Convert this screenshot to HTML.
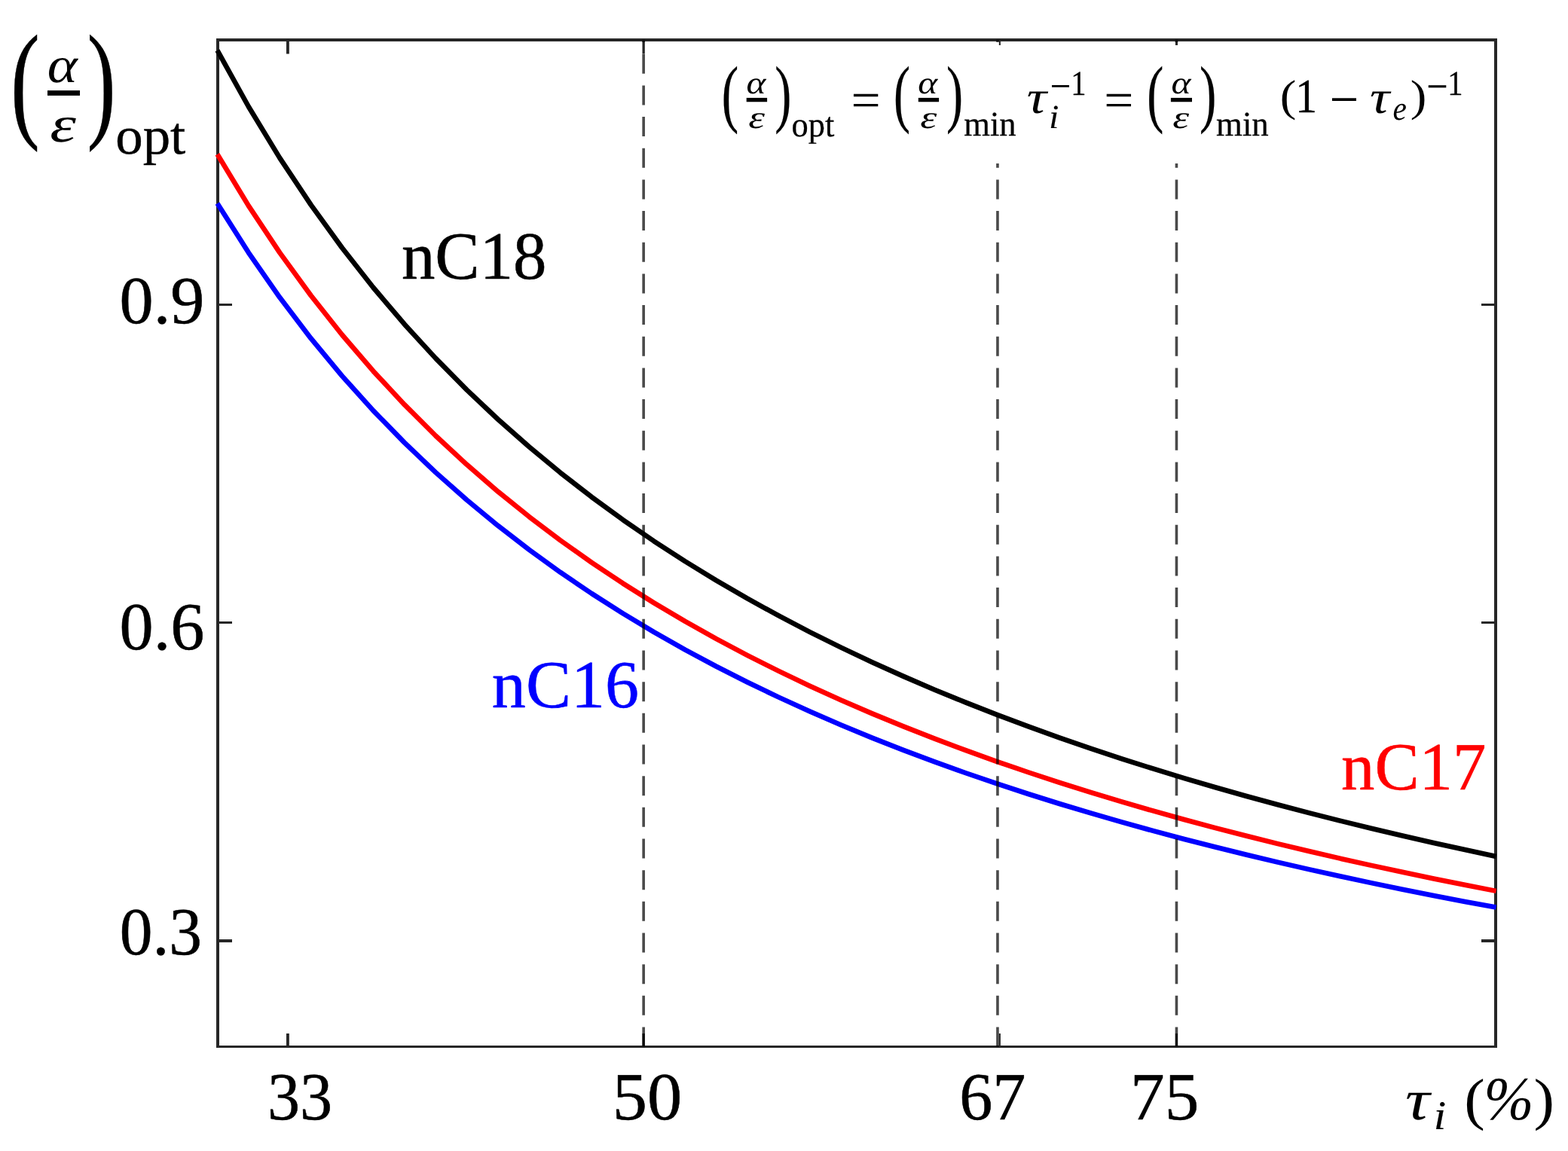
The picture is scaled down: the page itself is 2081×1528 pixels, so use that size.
<!DOCTYPE html>
<html lang="en"><head><meta charset="utf-8"><title>Optimal absorptance to emittance ratio versus transmittance</title>
<style>html,body{margin:0;padding:0;background:#ffffff}body{width:2081px;height:1528px;overflow:hidden}svg{display:block}text{font-family:"Liberation Serif","DejaVu Serif",serif;white-space:pre;text-rendering:geometricPrecision}.it{font-style:italic}.dj{font-family:"DejaVu Serif","Liberation Serif",serif}</style>
</head><body>
<svg width="2081" height="1528" viewBox="0 0 2081 1528">
<rect x="0" y="0" width="2081" height="1528" fill="#ffffff"/>
<g fill="#262626" shape-rendering="crispEdges">
<rect x="287" y="51" width="4" height="1340"/>
<rect x="1983" y="51" width="4" height="1340"/>
<rect x="287" y="51" width="1700" height="4"/>
<rect x="287" y="1388" width="1700" height="3"/>
</g>
<g fill="#262626">
<rect x="380" y="1372" width="3.85" height="17"/>
<rect x="380" y="54" width="3.85" height="17.5"/>
<rect x="852.5" y="1372" width="3.3" height="17"/>
<rect x="852.5" y="54" width="3.3" height="17.5"/>
<rect x="1325.8" y="1372" width="2.1" height="17"/>
<rect x="1325.8" y="54" width="2.1" height="17.5"/>
<rect x="1559.9" y="1372" width="3.1" height="17"/>
<rect x="1559.9" y="54" width="3.1" height="17.5"/>
<rect x="290" y="403" width="18" height="3"/>
<rect x="1966" y="403" width="18" height="3"/>
<rect x="290" y="825" width="18" height="3"/>
<rect x="1966" y="825" width="18" height="3"/>
<rect x="290" y="1247" width="18" height="4"/>
<rect x="1966" y="1247" width="18" height="4"/>
</g>
<path d="M288.43 270.09 L329.83 335.34 L371.22 394.79 L412.61 449.17 L454.01 499.1 L495.4 545.12 L536.8 587.66 L578.19 627.1 L619.58 663.77 L660.98 697.96 L702.37 729.9 L743.76 759.81 L785.16 787.88 L826.55 814.27 L867.94 839.13 L909.34 862.58 L950.73 884.76 L992.12 905.74 L1033.52 925.64 L1074.91 944.53 L1116.3 962.49 L1157.7 979.58 L1199.09 995.86 L1240.48 1011.4 L1281.88 1026.24 L1323.27 1040.42 L1364.66 1053.99 L1406.06 1067 L1447.45 1079.46 L1488.84 1091.42 L1530.24 1102.91 L1571.63 1113.95 L1613.02 1124.57 L1654.42 1134.8 L1695.81 1144.65 L1737.2 1154.14 L1778.6 1163.3 L1819.99 1172.13 L1861.39 1180.67 L1902.78 1188.92 L1944.17 1196.89 L1985.57 1204.61" fill="none" stroke="#0000ff" stroke-width="6.6" stroke-linejoin="round" stroke-linecap="butt"/>
<path d="M288.43 204.83 L329.83 273.12 L371.22 335.34 L412.61 392.25 L454.01 444.51 L495.4 492.67 L536.8 537.19 L578.19 578.47 L619.58 616.85 L660.98 652.63 L702.37 686.05 L743.76 717.36 L785.16 746.73 L826.55 774.35 L867.94 800.37 L909.34 824.92 L950.73 848.13 L992.12 870.09 L1033.52 890.92 L1074.91 910.68 L1116.3 929.48 L1157.7 947.36 L1199.09 964.41 L1240.48 980.67 L1281.88 996.19 L1323.27 1011.04 L1364.66 1025.25 L1406.06 1038.85 L1447.45 1051.9 L1488.84 1064.42 L1530.24 1076.44 L1571.63 1088 L1613.02 1099.11 L1654.42 1109.81 L1695.81 1120.12 L1737.2 1130.05 L1778.6 1139.64 L1819.99 1148.89 L1861.39 1157.82 L1902.78 1166.45 L1944.17 1174.8 L1985.57 1182.88" fill="none" stroke="#ff0000" stroke-width="6.6" stroke-linejoin="round" stroke-linecap="butt"/>
<path d="M288.43 66.8 L329.83 141.52 L371.22 209.59 L412.61 271.86 L454.01 329.05 L495.4 381.74 L536.8 430.45 L578.19 475.61 L619.58 517.61 L660.98 556.75 L702.37 593.32 L743.76 627.57 L785.16 659.71 L826.55 689.93 L867.94 718.4 L909.34 745.26 L950.73 770.65 L992.12 794.68 L1033.52 817.47 L1074.91 839.1 L1116.3 859.66 L1157.7 879.23 L1199.09 897.87 L1240.48 915.66 L1281.88 932.65 L1323.27 948.9 L1364.66 964.44 L1406.06 979.33 L1447.45 993.6 L1488.84 1007.3 L1530.24 1020.46 L1571.63 1033.1 L1613.02 1045.26 L1654.42 1056.97 L1695.81 1068.24 L1737.2 1079.11 L1778.6 1089.6 L1819.99 1099.72 L1861.39 1109.49 L1902.78 1118.94 L1944.17 1128.07 L1985.57 1136.91" fill="none" stroke="#000000" stroke-width="6.6" stroke-linejoin="round" stroke-linecap="butt"/>
<g stroke="#000000" stroke-opacity="0.71" stroke-width="3.6" stroke-dasharray="26 15.67" fill="none">
<line x1="854.15" y1="1389.5" x2="854.15" y2="53"/>
<line x1="1323.95" y1="1389.5" x2="1323.95" y2="53"/>
<line x1="1561.45" y1="1389.5" x2="1561.45" y2="53"/>
</g>
<rect x="950" y="60" width="1000" height="157" fill="#ffffff"/>
<rect x="63" y="120.1" width="43.05" height="6.8" fill="#000000"/>
<rect x="990.7" y="129.9" width="27.4" height="5.35" fill="#000000"/>
<rect x="1218.8" y="129.9" width="27.3" height="5.35" fill="#000000"/>
<rect x="1553.9" y="129.9" width="28.1" height="5.35" fill="#000000"/>
<text transform="translate(158.61 429) scale(1.0079 1)" font-size="89.6" stroke="#000000" stroke-width="0.54" stroke-linejoin="round">0.9</text>
<text transform="translate(158.61 862) scale(1.0079 1)" font-size="89.6" stroke="#000000" stroke-width="0.54" stroke-linejoin="round">0.6</text>
<text transform="translate(158.72 1267) scale(0.9765 1)" font-size="89.6" stroke="#000000" stroke-width="0.54" stroke-linejoin="round">0.3</text>
<text transform="translate(354.9 1486) scale(0.9624 1)" font-size="89.6" stroke="#000000" stroke-width="0.54" stroke-linejoin="round">33</text>
<text transform="translate(812.87 1486) scale(1.0324 1)" font-size="89.6" stroke="#000000" stroke-width="0.54" stroke-linejoin="round">50</text>
<text transform="translate(1273.25 1486) scale(0.9841 1)" font-size="89.6" stroke="#000000" stroke-width="0.54" stroke-linejoin="round">67</text>
<text transform="translate(1500.09 1486) scale(1.0183 1)" font-size="89.6" stroke="#000000" stroke-width="0.54" stroke-linejoin="round">75</text>
<text transform="translate(532.9 370) scale(0.9923 1)" font-size="89.6" stroke="#000000" stroke-width="0.54" stroke-linejoin="round">nC18</text>
<text transform="translate(652.87 939) scale(1.0048 1)" font-size="89.6" fill="#0000ff" stroke="#0000ff" stroke-width="0.54" stroke-linejoin="round">nC16</text>
<text transform="translate(1780.05 1048) scale(0.9905 1)" font-size="89.6" fill="#ff0000" stroke="#ff0000" stroke-width="0.54" stroke-linejoin="round">nC17</text>
<text transform="translate(13.92 165) scale(0.6785 1)" font-size="171.58" stroke="#000000" stroke-width="0.52" stroke-linejoin="round">(</text>
<text class="it" transform="translate(62.81 109) scale(1.1193 1)" font-size="68.1">α</text>
<text class="it" transform="translate(66.19 188) scale(1.2920 1)" font-size="68.1">ε</text>
<text transform="translate(115.52 165) scale(0.6694 1)" font-size="171.58" stroke="#000000" stroke-width="0.52" stroke-linejoin="round">)</text>
<text transform="translate(153.22 204) scale(1.0295 1)" font-size="70.78" stroke="#000000" stroke-width="0.43" stroke-linejoin="round">opt</text>
<text transform="translate(957.83 157) scale(0.6770 1)" font-size="99.56" stroke="#000000" stroke-width="0.3" stroke-linejoin="round">(</text>
<text class="it" transform="translate(990.42 124) scale(1.1773 1)" font-size="41.83">α</text>
<text class="it" transform="translate(993.3 170) scale(1.3152 1)" font-size="41.94">ε</text>
<text transform="translate(1028.15 157) scale(0.6653 1)" font-size="99.56" stroke="#000000" stroke-width="0.3" stroke-linejoin="round">)</text>
<text transform="translate(1050.59 181) scale(0.9629 1)" font-size="46.12" stroke="#000000" stroke-width="0.28" stroke-linejoin="round">opt</text>
<text transform="translate(1129.43 155) scale(1.0525 1)" font-size="66">=</text>
<text transform="translate(1186.08 157) scale(0.6653 1)" font-size="99.56" stroke="#000000" stroke-width="0.3" stroke-linejoin="round">(</text>
<text class="it" transform="translate(1218.32 124) scale(1.1796 1)" font-size="41.83">α</text>
<text class="it" transform="translate(1221.19 170) scale(1.3345 1)" font-size="41.94">ε</text>
<text transform="translate(1256.05 157) scale(0.6653 1)" font-size="99.56" stroke="#000000" stroke-width="0.3" stroke-linejoin="round">)</text>
<text transform="translate(1279.27 180) scale(0.9670 1)" font-size="46.13" stroke="#000000" stroke-width="0.28" stroke-linejoin="round">min</text>
<text class="it" transform="translate(1362.87 150) scale(1.1800 1)" font-size="62.13">τ</text>
<text class="it" transform="translate(1392.22 170) scale(1.0493 1)" font-size="44.46" stroke="#000000" stroke-width="0.18" stroke-linejoin="round">i</text>
<text transform="translate(1393.53 133) scale(0.8833 1)" font-size="56">−</text>
<text transform="translate(1421.24 126) scale(0.8800 1)" font-size="46.09" stroke="#000000" stroke-width="0.28" stroke-linejoin="round">1</text>
<text transform="translate(1465.33 155) scale(1.0525 1)" font-size="66">=</text>
<text transform="translate(1522.33 157) scale(0.6653 1)" font-size="99.56" stroke="#000000" stroke-width="0.3" stroke-linejoin="round">(</text>
<text class="it" transform="translate(1554.52 124) scale(1.1820 1)" font-size="41.83">α</text>
<text class="it" transform="translate(1556.3 170) scale(1.3216 1)" font-size="41.94">ε</text>
<text transform="translate(1592.03 157) scale(0.6731 1)" font-size="99.56" stroke="#000000" stroke-width="0.3" stroke-linejoin="round">)</text>
<text transform="translate(1614.07 180) scale(0.9712 1)" font-size="46.13" stroke="#000000" stroke-width="0.28" stroke-linejoin="round">min</text>
<text transform="translate(1698.8 147) scale(1.1033 1)" font-size="58.62">(</text>
<text transform="translate(1719.21 149) scale(0.9000 1)" font-size="63.88" stroke="#000000" stroke-width="0.39" stroke-linejoin="round">1</text>
<text transform="translate(1764.46 156) scale(0.9558 1)" font-size="72">−</text>
<text class="it" transform="translate(1817.97 150) scale(1.1800 1)" font-size="62.13">τ</text>
<text class="it" transform="translate(1848.56 159) scale(0.9181 1)" font-size="45.05">e</text>
<text transform="translate(1871.85 147) scale(1.1033 1)" font-size="58.62">)</text>
<text transform="translate(1893.27 136) scale(0.7897 1)" font-size="64">−</text>
<text transform="translate(1921.19 126) scale(0.8800 1)" font-size="46.09" stroke="#000000" stroke-width="0.28" stroke-linejoin="round">1</text>
<text class="it" transform="translate(1864.94 1486) scale(1.1800 1)" font-size="76.91">τ</text>
<text class="it" transform="translate(1902.67 1499) scale(1.0855 1)" font-size="54.23" stroke="#000000" stroke-width="0.22" stroke-linejoin="round">i</text>
<text transform="translate(1943.22 1485) scale(1.0810 1)" font-size="76.41">(</text>
<text class="it" transform="translate(1969.29 1486) scale(0.9771 1)" font-size="81.45">%</text>
<text transform="translate(2035.38 1485) scale(1.0810 1)" font-size="76.41">)</text>
</svg>
</body></html>
